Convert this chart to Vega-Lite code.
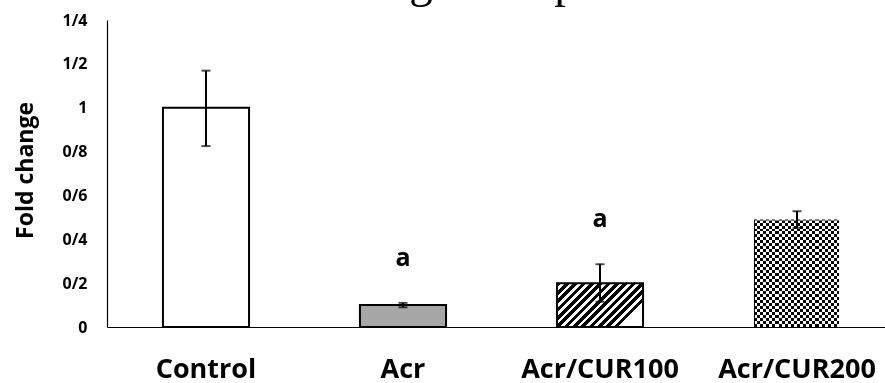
{
  "$schema": "https://vega.github.io/schema/vega-lite/v6.json",
  "autosize": {"type": "none"},
  "width": 778,
  "height": 307,
  "padding": {"left": 107, "top": 20, "right": 0, "bottom": 56},
  "background": "white",
  "config": {"view": {"stroke": null}},
  "title": {
    "text": "Relative gene expression",
    "font": "Liberation Serif",
    "fontSize": 47,
    "fontWeight": "normal",
    "color": "black",
    "anchor": "start",
    "frame": "group",
    "dx": 134,
    "dy": 32,
    "baseline": "alphabetic",
    "offset": 0
  },
  "data": {
    "values": [
      {"group": "Control", "value": 1.0, "lo": 0.825, "hi": 1.169, "sig": ""},
      {"group": "Acr", "value": 0.1, "lo": 0.09, "hi": 0.11, "sig": "a"},
      {"group": "Acr/CUR100", "value": 0.2, "lo": 0.115, "hi": 0.286, "sig": "a"},
      {"group": "Acr/CUR200", "value": 0.49, "lo": 0.452, "hi": 0.528, "sig": ""}
    ]
  },
  "encoding": {
    "x": {
      "field": "group",
      "type": "nominal",
      "sort": null,
      "scale": {"range": [0, 789], "paddingInner": 0.563, "paddingOuter": 0.284},
      "axis": {
        "title": null,
        "labelAngle": 0,
        "labelFont": "Open Sans",
        "labelFontWeight": "bold",
        "labelFontSize": 27,
        "labelColor": "black",
        "labelPadding": 29,
        "ticks": false,
        "domainColor": "black",
        "domainWidth": 1.2
      }
    },
    "y": {
      "field": "value",
      "type": "quantitative",
      "scale": {"domain": [0, 1.4], "nice": false},
      "axis": {
        "title": "Fold change",
        "titleFont": "Open Sans",
        "titleFontSize": 23,
        "titleFontWeight": "bold",
        "titleColor": "black",
        "titleX": -82,
        "titleY": 150,
        "titleAngle": 270,
        "titleBaseline": "middle",
        "titleAlign": "center",
        "values": [0, 0.2, 0.4, 0.6, 0.8, 1, 1.2, 1.4],
        "labelExpr": "replace(format(datum.value, '.1~f'), '.', '/')",
        "labelFont": "Open Sans",
        "labelFontWeight": "bold",
        "labelFontSize": 16,
        "labelColor": "black",
        "labelPadding": 20,
        "ticks": false,
        "grid": false,
        "domainColor": "black",
        "domainWidth": 1.2
      }
    }
  },
  "layer": [
    {
      "transform": [{"filter": "datum.group == 'Control'"}],
      "mark": {"type": "bar", "fill": "white", "stroke": "black", "strokeWidth": 2}
    },
    {
      "transform": [{"filter": "datum.group == 'Acr'"}],
      "mark": {"type": "bar", "fill": "#a6a6a6", "stroke": "black", "strokeWidth": 2}
    },
    {
      "transform": [{"filter": "datum.group == 'Acr/CUR100'"}],
      "mark": {
        "type": "bar",
        "stroke": "black",
        "strokeWidth": 2,
        "fill": {
          "gradient": "linear",
          "x1": 0, "y1": 0, "x2": 1, "y2": 0.51,
          "stops": [
            {"offset": 0, "color": "black"}, {"offset": 0.0423, "color": "black"}, {"offset": 0.0423, "color": "white"}, {"offset": 0.0769, "color": "white"},
            {"offset": 0.0769, "color": "black"}, {"offset": 0.1192, "color": "black"}, {"offset": 0.1192, "color": "white"}, {"offset": 0.1538, "color": "white"},
            {"offset": 0.1538, "color": "black"}, {"offset": 0.1962, "color": "black"}, {"offset": 0.1962, "color": "white"}, {"offset": 0.2308, "color": "white"},
            {"offset": 0.2308, "color": "black"}, {"offset": 0.2731, "color": "black"}, {"offset": 0.2731, "color": "white"}, {"offset": 0.3077, "color": "white"},
            {"offset": 0.3077, "color": "black"}, {"offset": 0.35, "color": "black"}, {"offset": 0.35, "color": "white"}, {"offset": 0.3846, "color": "white"},
            {"offset": 0.3846, "color": "black"}, {"offset": 0.4269, "color": "black"}, {"offset": 0.4269, "color": "white"}, {"offset": 0.4615, "color": "white"},
            {"offset": 0.4615, "color": "black"}, {"offset": 0.5038, "color": "black"}, {"offset": 0.5038, "color": "white"}, {"offset": 0.5385, "color": "white"},
            {"offset": 0.5385, "color": "black"}, {"offset": 0.5808, "color": "black"}, {"offset": 0.5808, "color": "white"}, {"offset": 0.6154, "color": "white"},
            {"offset": 0.6154, "color": "black"}, {"offset": 0.6577, "color": "black"}, {"offset": 0.6577, "color": "white"}, {"offset": 0.6923, "color": "white"},
            {"offset": 0.6923, "color": "black"}, {"offset": 0.7346, "color": "black"}, {"offset": 0.7346, "color": "white"}, {"offset": 0.7692, "color": "white"},
            {"offset": 0.7692, "color": "black"}, {"offset": 0.8115, "color": "black"}, {"offset": 0.8115, "color": "white"}, {"offset": 0.8462, "color": "white"},
            {"offset": 0.8462, "color": "black"}, {"offset": 0.8885, "color": "black"}, {"offset": 0.8885, "color": "white"}, {"offset": 0.9231, "color": "white"},
            {"offset": 0.9231, "color": "black"}, {"offset": 0.9654, "color": "black"}, {"offset": 0.9654, "color": "white"}, {"offset": 1, "color": "white"}
          ]
        }
      }
    },
    {
      "transform": [{"filter": "datum.group == 'Acr/CUR200'"}],
      "mark": {
        "type": "bar",
        "strokeWidth": 0,
        "fill": {
          "gradient": "linear",
          "x1": 0, "y1": 0, "x2": 1, "y2": 0,
          "stops": [
            {"offset": 0, "color": "black"}, {"offset": 0.0357, "color": "black"}, {"offset": 0.0357, "color": "white"}, {"offset": 0.0714, "color": "white"},
            {"offset": 0.0714, "color": "black"}, {"offset": 0.1071, "color": "black"}, {"offset": 0.1071, "color": "white"}, {"offset": 0.1429, "color": "white"},
            {"offset": 0.1429, "color": "black"}, {"offset": 0.1786, "color": "black"}, {"offset": 0.1786, "color": "white"}, {"offset": 0.2143, "color": "white"},
            {"offset": 0.2143, "color": "black"}, {"offset": 0.25, "color": "black"}, {"offset": 0.25, "color": "white"}, {"offset": 0.2857, "color": "white"},
            {"offset": 0.2857, "color": "black"}, {"offset": 0.3214, "color": "black"}, {"offset": 0.3214, "color": "white"}, {"offset": 0.3571, "color": "white"},
            {"offset": 0.3571, "color": "black"}, {"offset": 0.3929, "color": "black"}, {"offset": 0.3929, "color": "white"}, {"offset": 0.4286, "color": "white"},
            {"offset": 0.4286, "color": "black"}, {"offset": 0.4643, "color": "black"}, {"offset": 0.4643, "color": "white"}, {"offset": 0.5, "color": "white"},
            {"offset": 0.5, "color": "black"}, {"offset": 0.5357, "color": "black"}, {"offset": 0.5357, "color": "white"}, {"offset": 0.5714, "color": "white"},
            {"offset": 0.5714, "color": "black"}, {"offset": 0.6071, "color": "black"}, {"offset": 0.6071, "color": "white"}, {"offset": 0.6429, "color": "white"},
            {"offset": 0.6429, "color": "black"}, {"offset": 0.6786, "color": "black"}, {"offset": 0.6786, "color": "white"}, {"offset": 0.7143, "color": "white"},
            {"offset": 0.7143, "color": "black"}, {"offset": 0.75, "color": "black"}, {"offset": 0.75, "color": "white"}, {"offset": 0.7857, "color": "white"},
            {"offset": 0.7857, "color": "black"}, {"offset": 0.8214, "color": "black"}, {"offset": 0.8214, "color": "white"}, {"offset": 0.8571, "color": "white"},
            {"offset": 0.8571, "color": "black"}, {"offset": 0.8929, "color": "black"}, {"offset": 0.8929, "color": "white"}, {"offset": 0.9286, "color": "white"},
            {"offset": 0.9286, "color": "black"}, {"offset": 0.9643, "color": "black"}, {"offset": 0.9643, "color": "white"}, {"offset": 1, "color": "white"}
          ]
        }
      }
    },
    {
      "transform": [{"filter": "datum.group == 'Acr/CUR200'"}],
      "mark": {
        "type": "bar",
        "stroke": "black",
        "strokeWidth": 2,
        "blend": "difference",
        "fill": {
          "gradient": "linear",
          "x1": 0, "y1": 0, "x2": 0, "y2": 1,
          "stops": [
            {"offset": 0, "color": "white"}, {"offset": 0.0278, "color": "white"}, {"offset": 0.0278, "color": "black"}, {"offset": 0.0556, "color": "black"},
            {"offset": 0.0556, "color": "white"}, {"offset": 0.0833, "color": "white"}, {"offset": 0.0833, "color": "black"}, {"offset": 0.1111, "color": "black"},
            {"offset": 0.1111, "color": "white"}, {"offset": 0.1389, "color": "white"}, {"offset": 0.1389, "color": "black"}, {"offset": 0.1667, "color": "black"},
            {"offset": 0.1667, "color": "white"}, {"offset": 0.1944, "color": "white"}, {"offset": 0.1944, "color": "black"}, {"offset": 0.2222, "color": "black"},
            {"offset": 0.2222, "color": "white"}, {"offset": 0.25, "color": "white"}, {"offset": 0.25, "color": "black"}, {"offset": 0.2778, "color": "black"},
            {"offset": 0.2778, "color": "white"}, {"offset": 0.3056, "color": "white"}, {"offset": 0.3056, "color": "black"}, {"offset": 0.3333, "color": "black"},
            {"offset": 0.3333, "color": "white"}, {"offset": 0.3611, "color": "white"}, {"offset": 0.3611, "color": "black"}, {"offset": 0.3889, "color": "black"},
            {"offset": 0.3889, "color": "white"}, {"offset": 0.4167, "color": "white"}, {"offset": 0.4167, "color": "black"}, {"offset": 0.4444, "color": "black"},
            {"offset": 0.4444, "color": "white"}, {"offset": 0.4722, "color": "white"}, {"offset": 0.4722, "color": "black"}, {"offset": 0.5, "color": "black"},
            {"offset": 0.5, "color": "white"}, {"offset": 0.5278, "color": "white"}, {"offset": 0.5278, "color": "black"}, {"offset": 0.5556, "color": "black"},
            {"offset": 0.5556, "color": "white"}, {"offset": 0.5833, "color": "white"}, {"offset": 0.5833, "color": "black"}, {"offset": 0.6111, "color": "black"},
            {"offset": 0.6111, "color": "white"}, {"offset": 0.6389, "color": "white"}, {"offset": 0.6389, "color": "black"}, {"offset": 0.6667, "color": "black"},
            {"offset": 0.6667, "color": "white"}, {"offset": 0.6944, "color": "white"}, {"offset": 0.6944, "color": "black"}, {"offset": 0.7222, "color": "black"},
            {"offset": 0.7222, "color": "white"}, {"offset": 0.75, "color": "white"}, {"offset": 0.75, "color": "black"}, {"offset": 0.7778, "color": "black"},
            {"offset": 0.7778, "color": "white"}, {"offset": 0.8056, "color": "white"}, {"offset": 0.8056, "color": "black"}, {"offset": 0.8333, "color": "black"},
            {"offset": 0.8333, "color": "white"}, {"offset": 0.8611, "color": "white"}, {"offset": 0.8611, "color": "black"}, {"offset": 0.8889, "color": "black"},
            {"offset": 0.8889, "color": "white"}, {"offset": 0.9167, "color": "white"}, {"offset": 0.9167, "color": "black"}, {"offset": 0.9444, "color": "black"},
            {"offset": 0.9444, "color": "white"}, {"offset": 0.9722, "color": "white"}, {"offset": 0.9722, "color": "black"}, {"offset": 1, "color": "black"}
          ]
        }
      }
    },
    {
      "mark": {"type": "rule", "color": "black", "strokeWidth": 2},
      "encoding": {
        "y": {"field": "lo", "type": "quantitative"},
        "y2": {"field": "hi"}
      }
    },
    {
      "mark": {"type": "tick", "color": "black", "thickness": 2, "size": 9, "orient": "horizontal"},
      "encoding": {"y": {"field": "hi", "type": "quantitative"}}
    },
    {
      "mark": {"type": "tick", "color": "black", "thickness": 2, "size": 9, "orient": "horizontal"},
      "encoding": {"y": {"field": "lo", "type": "quantitative"}}
    },
    {
      "transform": [{"filter": "datum.sig != ''"}],
      "mark": {"type": "text", "font": "Open Sans", "fontWeight": "bold", "fontSize": 25, "color": "black", "baseline": "middle", "dy": -45},
      "encoding": {
        "y": {"field": "hi", "type": "quantitative"},
        "text": {"field": "sig"}
      }
    }
  ]
}
